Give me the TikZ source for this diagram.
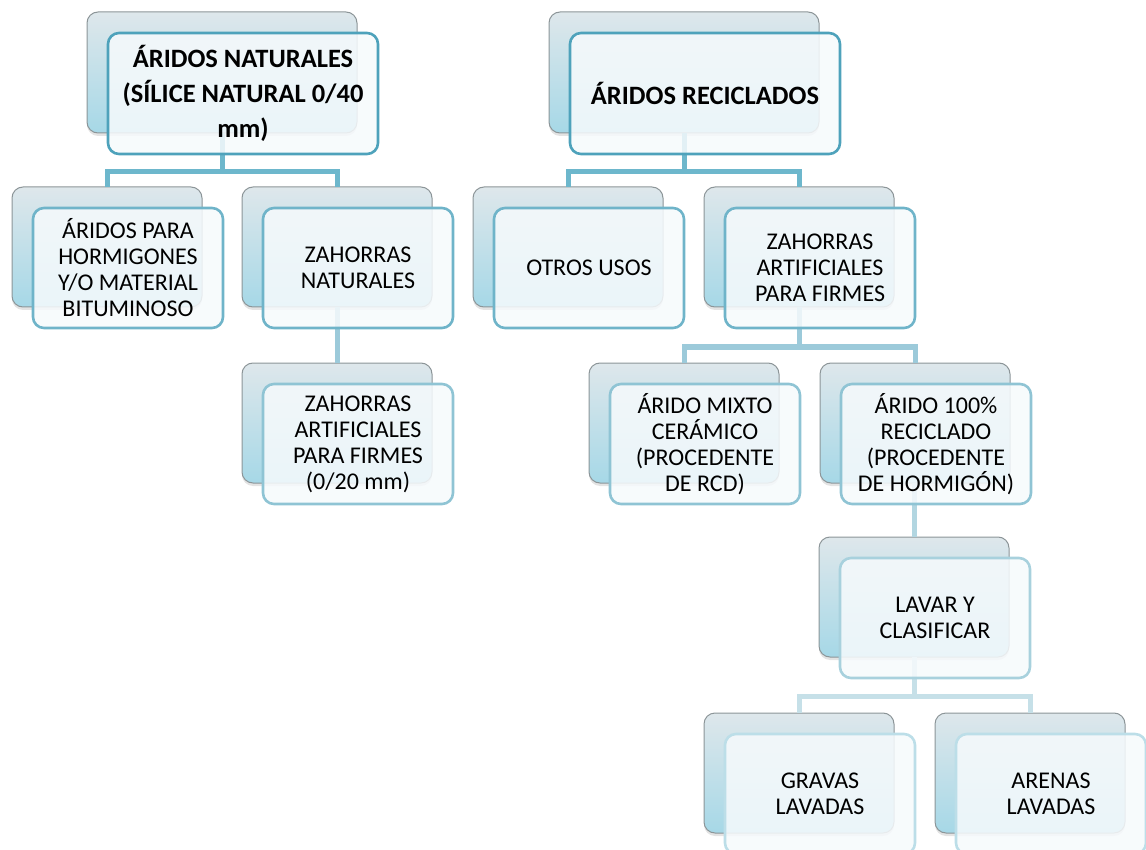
\documentclass[tikz,border=0pt]{standalone}
\usepackage{fontspec}
\setmainfont{Carlito}
\usetikzlibrary{shadows}
\definecolor{backtop}{HTML}{DEE7EB}
\definecolor{backbot}{HTML}{A6D8E7}
\definecolor{backline}{HTML}{8C9598}
\definecolor{frontfill}{HTML}{F6FAFC}
\definecolor{fb0}{HTML}{4EA2BB}
\definecolor{fb1}{HTML}{6FB4C9}
\definecolor{fb2}{HTML}{8FC4D4}
\definecolor{fb3}{HTML}{A8D1DD}
\definecolor{fb4}{HTML}{BCDEE8}
\definecolor{cn0}{HTML}{6DB7CC}
\definecolor{cn1}{HTML}{9CCADA}
\definecolor{cn2}{HTML}{B2D6E1}
\definecolor{cn3}{HTML}{C6E0E8}
\tikzset{
  backbox/.style={draw=backline, line width=1pt, rounded corners=11pt,
    top color=backtop, bottom color=backbot, minimum width=190pt, minimum height=120pt,
    inner sep=0pt, outer sep=0pt,
    drop shadow={opacity=0.22, shadow xshift=0pt, shadow yshift=-3pt}},
  widebox/.style={minimum width=270pt, minimum height=121pt},
  frontbox/.style={rounded corners=11pt, fill=frontfill, fill opacity=0.86, text opacity=1,
    line width=2.6pt, minimum width=190pt, minimum height=120pt, inner sep=0pt, outer sep=0pt,
    align=center, font=\fontsize{24}{26}\selectfont},
  titlefont/.style={font=\fontsize{26.5}{35}\selectfont\bfseries},
  conn/.style={line width=5pt},
}
\begin{document}
\begin{tikzpicture}[x=1pt,y=-1pt]
\useasboundingbox (0,0) rectangle (1146,850);
% back boxes
\node[backbox,widebox] (natB) at (222,72.5) {};
\node[backbox] (horB) at (107,247) {};
\node[backbox] (znB) at (337,247) {};
\node[backbox] (zaB) at (337,423) {};
\node[backbox,widebox] (recB) at (684,72.5) {};
\node[backbox] (otrB) at (568,247) {};
\node[backbox] (zapB) at (799,247) {};
\node[backbox] (mixB) at (684,423) {};
\node[backbox] (cienB) at (915,423) {};
\node[backbox] (lavB) at (914,597) {};
\node[backbox] (graB) at (799,773) {};
\node[backbox] (areB) at (1030,773) {};
% connectors
\draw[conn,cn0] (natB.south) -- (natB.south |- 0,172) -| (horB.north);
\draw[conn,cn0] (natB.south |- 0,172) -| (znB.north);
\draw[conn,cn1] (znB.south) -- (zaB.north);
\draw[conn,cn0] (recB.south) -- (recB.south |- 0,172) -| (otrB.north);
\draw[conn,cn0] (recB.south |- 0,172) -| (zapB.north);
\draw[conn,cn1] (zapB.south) -- (zapB.south |- 0,347) -| (mixB.north);
\draw[conn,cn1] (zapB.south |- 0,347) -| (cienB.north);
\draw[conn,cn2] (cienB.south -| lavB.north) -- (lavB.north);
\draw[conn,cn3] (lavB.south) -- (lavB.south |- 0,696) -| (graB.north);
\draw[conn,cn3] (lavB.south |- 0,696) -| (areB.north);
% front boxes
\node[frontbox,widebox,draw=fb0,titlefont] (nat) at (243,93.5) {ÁRIDOS NATURALES\\(SÍLICE NATURAL 0/40\\mm)};
\node[frontbox,draw=fb1] (hor) at (128,268) {ÁRIDOS PARA\\HORMIGONES\\Y/O MATERIAL\\BITUMINOSO};
\node[frontbox,draw=fb1] (zn) at (358,268) {ZAHORRAS\\NATURALES};
\node[frontbox,draw=fb2] (za) at (358,444) {ZAHORRAS\\ARTIFICIALES\\PARA FIRMES\\(0/20 mm)};
\node[frontbox,widebox,draw=fb0,titlefont] (rec) at (705,93.5) {ÁRIDOS RECICLADOS};
\node[frontbox,draw=fb1] (otr) at (589,268) {OTROS USOS};
\node[frontbox,draw=fb1] (zap) at (820,268) {ZAHORRAS\\ARTIFICIALES\\PARA FIRMES};
\node[frontbox,draw=fb2] (mix) at (705,444) {ÁRIDO MIXTO\\CERÁMICO\\(PROCEDENTE\\DE RCD)};
\node[frontbox,draw=fb2] (cien) at (936,444) {ÁRIDO 100\%\\RECICLADO\\(PROCEDENTE\\DE HORMIGÓN)};
\node[frontbox,draw=fb3] (lav) at (935,618) {LAVAR Y\\CLASIFICAR};
\node[frontbox,draw=fb4] (gra) at (820,794) {GRAVAS\\LAVADAS};
\node[frontbox,draw=fb4] (are) at (1051,794) {ARENAS\\LAVADAS};
\end{tikzpicture}
\end{document}
